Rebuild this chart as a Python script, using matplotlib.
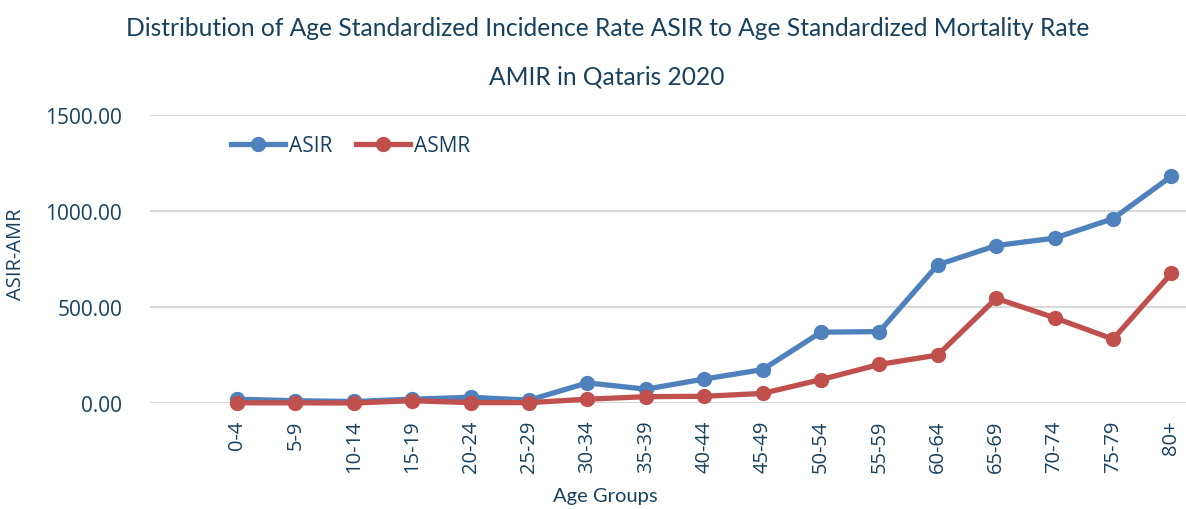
import matplotlib
matplotlib.use("Agg")
import matplotlib.pyplot as plt

age_groups = ["0-4", "5-9", "10-14", "15-19", "20-24", "25-29", "30-34", "35-39",
              "40-44", "45-49", "50-54", "55-59", "60-64", "65-69", "70-74", "75-79", "80+"]
asir = [20, 12, 8, 20, 30, 15, 105, 72, 125, 174, 369, 372, 720, 820, 859, 960, 1181]
asmr = [1, 1, 0, 12, 2, 2, 20, 33, 35, 50, 122, 201, 250, 545, 444, 333, 675]

navy = "#17415f"
plt.rcParams['font.family'] = ['Open Sans', 'DejaVu Sans']

fig = plt.figure(figsize=(11.86, 5.10), dpi=100)
ax = fig.add_axes([0.1265, 0.2078, 0.8735, 0.5647])

x = range(len(age_groups))
ax.plot(x, asir, color="#4f81bd", lw=3.8, marker="o", ms=10, label="ASIR",
        clip_on=False, zorder=3)
ax.plot(x, asmr, color="#c0504d", lw=3.8, marker="o", ms=10, label="ASMR",
        clip_on=False, zorder=4)

ax.set_xlim(-1.49, 16.25)
ax.set_ylim(0, 1500)
ax.set_yticks([0, 500, 1000, 1500])
ax.set_yticklabels([f"{v:.2f}" for v in [0, 500, 1000, 1500]])
ax.set_xticks(list(x))
ax.set_xticklabels(age_groups, rotation=90)
ax.tick_params(axis="both", length=0, colors=navy)
ax.tick_params(axis="y", pad=20, labelsize=15)
ax.tick_params(axis="x", pad=12, labelsize=14.5)
ax.grid(axis="y", color="#d9d9d9", lw=1.5)
ax.set_axisbelow(True)
for s in ax.spines.values():
    s.set_visible(False)

ax.set_xlabel("Age Groups", family=["Lato", "DejaVu Sans"], fontsize=14.5, color=navy)
ax.xaxis.set_label_coords(0.439, -0.29)
ax.set_ylabel("ASIR-AMR", fontsize=14.5, color=navy)
ax.yaxis.set_label_coords(-0.12, 0.52)

ax.legend(loc="upper left", bbox_to_anchor=(0.06, 0.995), ncol=2, frameon=False,
          fontsize=15, labelcolor=navy, handlelength=2.6, handletextpad=0.2,
          columnspacing=1.1)

title_font = ["Lato", "DejaVu Sans"]
fig.text(0.512, 0.93, "Distribution of Age Standardized Incidence Rate ASIR to Age Standardized Mortality Rate",
         ha="center", va="baseline", fontsize=17.7, color=navy, family=title_font)
fig.text(0.512, 0.834, "AMIR in Qataris 2020",
         ha="center", va="baseline", fontsize=17.7, color=navy, family=title_font)

fig.savefig("out.png", dpi=100)
